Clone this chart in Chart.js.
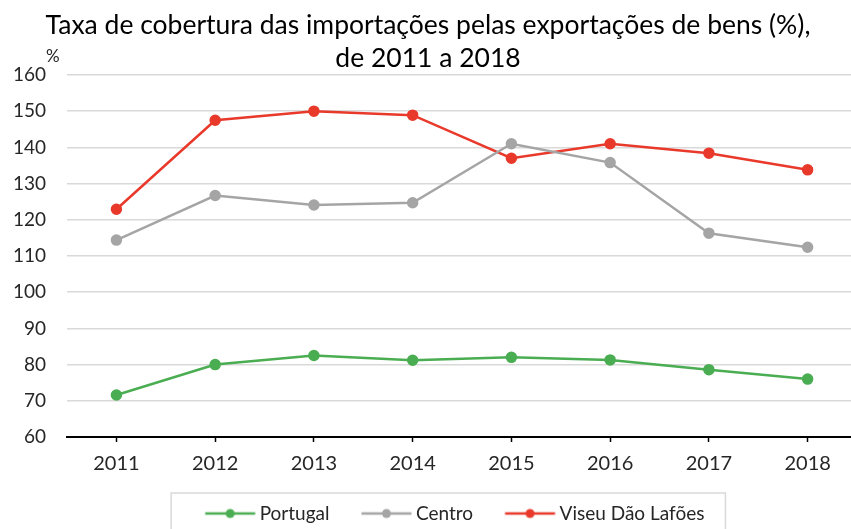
<!DOCTYPE html>
<html lang="pt">
<head>
    <meta charset="UTF-8">
    <script src="https://cdn.jsdelivr.net/npm/chart.js@4.2.1/dist/chart.umd.min.js"></script>
    <title>Taxa de cobertura</title>
    <style>
        html, body { margin: 0; padding: 0; background: #fff; overflow: hidden; }
        #wrap { width: 864px; height: 529px; }
    </style>
</head>
<body>
    <div id="wrap"><canvas id="chart"></canvas></div>
    <script>
        const years = ['2011', '2012', '2013', '2014', '2015', '2016', '2017', '2018'];
        const portugal = [71.6, 80.0, 82.5, 81.2, 82.0, 81.3, 78.6, 76.0];
        const centro = [114.4, 126.7, 124.1, 124.7, 141.0, 135.8, 116.3, 112.4];
        const viseu = [122.9, 147.5, 150.0, 148.9, 137.0, 141.0, 138.4, 133.8];
        const seriesNames = ['Portugal', 'Centro', 'Viseu Dão Lafões'];
        const colors = ['#4aad52', '#a5a5a5', '#e8392b'];

        const FONT = 'Lato, "Liberation Sans", sans-serif';
        const LEGEND_TAIL = '\u2003\u2003'; // pushes the centred legend a bit to the left

        // line-with-dot images for the legend (wider than the box so the line sits near the text)
        function legendIcon(color) {
            const c = document.createElement('canvas');
            c.width = 74; c.height = 12;
            const g = c.getContext('2d');
            g.strokeStyle = color;
            g.lineWidth = 2.5;
            g.beginPath(); g.moveTo(21.5, 6); g.lineTo(71.5, 6); g.stroke();
            g.fillStyle = color;
            g.beginPath(); g.arc(46.5, 6, 4.5, 0, Math.PI * 2); g.fill();
            return c;
        }

        const extras = {
            id: 'extras',
            afterDraw(chart) {
                const ctx = chart.ctx;
                const area = chart.chartArea;
                ctx.save();
                ctx.fillStyle = '#262626';
                ctx.font = '17px ' + FONT;
                ctx.textAlign = 'left';
                ctx.textBaseline = 'bottom';
                ctx.fillText('%', area.left - 21, area.top - 10);

                // border round the legend
                const boxes = chart.legend.legendHitBoxes;
                if (boxes && boxes.length) {
                    const first = boxes[0], last = boxes[boxes.length - 1];
                    ctx.font = '19px ' + FONT;
                    const tail = ctx.measureText(LEGEND_TAIL).width;
                    ctx.strokeStyle = '#d9d9d9';
                    ctx.lineWidth = 1.5;
                    const l = first.left - 20, r = last.left + last.width - tail + 21;
                    const t = first.top - 11;
                    ctx.strokeRect(l, t, r - l, 60);
                }
                ctx.restore();
            }
        };

        new Chart(document.getElementById('chart'), {
            type: 'line',
            data: {
                labels: years,
                datasets: [portugal, centro, viseu].map((d, i) => ({
                    label: seriesNames[i],
                    data: d,
                    borderColor: colors[i],
                    backgroundColor: colors[i],
                    pointBackgroundColor: colors[i],
                    pointBorderColor: colors[i],
                    pointStyle: 'circle',
                    pointRadius: 4.5,
                    borderWidth: 2.5,
                    tension: 0
                }))
            },
            options: {
                responsive: true,
                maintainAspectRatio: false,
                animation: false,
                layout: { padding: { left: -8, right: 0, top: 0, bottom: -4 } },
                plugins: {
                    title: {
                        display: true,
                        text: ['Taxa de cobertura das importações pelas exportações de bens (%),', 'de 2011 a 2018'],
                        color: '#000',
                        font: { family: FONT, size: 26.5, weight: 'normal', lineHeight: 1.245 },
                        padding: { top: 9, bottom: 0 }
                    },
                    legend: {
                        position: 'bottom',
                        fullSize: false,
                        labels: {
                            usePointStyle: true,
                            pointStyleWidth: 59,
                            boxHeight: 12,
                            color: '#262626',
                            font: { family: FONT, size: 19 },
                            padding: 18,
                            generateLabels(chart) {
                                const n = chart.data.datasets.length;
                                return chart.data.datasets.map((ds, i) => ({
                                    text: i === n - 1 ? ds.label + LEGEND_TAIL : ds.label,
                                    pointStyle: legendIcon(colors[i]),
                                    fillStyle: colors[i],
                                    strokeStyle: colors[i],
                                    lineWidth: 0,
                                    datasetIndex: i,
                                    fontColor: '#262626'
                                }));
                            }
                        }
                    },
                    tooltip: { enabled: false }
                },
                scales: {
                    x: {
                        offset: true,
                        grid: {
                            display: true,
                            drawOnChartArea: false,
                            offset: false,
                            color: '#000',
                            tickLength: 5,
                            tickWidth: 1.5
                        },
                        border: { color: '#000', width: 2 },
                        ticks: {
                            color: '#262626',
                            font: { family: FONT, size: 20 },
                            padding: 10
                        }
                    },
                    y: {
                        min: 60,
                        max: 160,
                        ticks: {
                            stepSize: 10,
                            color: '#262626',
                            font: { family: FONT, size: 19 },
                            padding: 21
                        },
                        grid: {
                            color: '#d9d9d9',
                            lineWidth: 1.5,
                            drawTicks: false
                        },
                        border: { display: false }
                    }
                }
            },
            plugins: [extras]
        });
    </script>
</body>
</html>
